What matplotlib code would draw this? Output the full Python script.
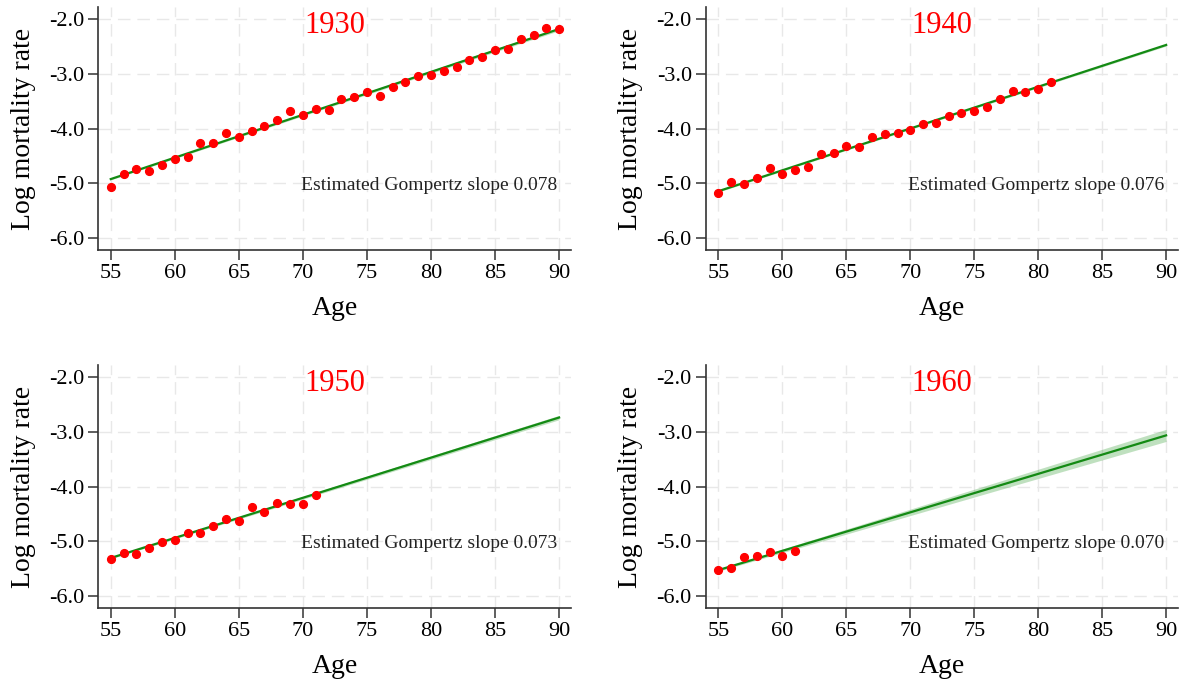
import numpy as np
import matplotlib
matplotlib.use('Agg')
import matplotlib.pyplot as plt

plt.rcParams['font.family'] = ['Liberation Serif', 'DejaVu Serif']

cohorts = ['1930', '1940', '1950', '1960']
slope_text = ['0.078', '0.076', '0.073', '0.070']

rate_1930 = [-5.07, -4.83, -4.73, -4.78, -4.67, -4.55, -4.52, -4.26, -4.26, -4.08,
             -4.15, -4.05, -3.96, -3.84, -3.69, -3.75, -3.64, -3.66, -3.47, -3.43,
             -3.34, -3.40, -3.24, -3.16, -3.05, -3.03, -2.95, -2.88, -2.75, -2.70,
             -2.57, -2.55, -2.38, -2.30, -2.17, -2.19]
rate_1940 = [-5.18, -4.98, -5.01, -4.90, -4.72, -4.83, -4.75, -4.70, -4.47, -4.45,
             -4.31, -4.34, -4.16, -4.10, -4.08, -4.03, -3.92, -3.90, -3.78, -3.71,
             -3.68, -3.60, -3.46, -3.32, -3.34, -3.28, -3.16]
rate_1950 = [-5.31, -5.21, -5.23, -5.12, -5.01, -4.97, -4.84, -4.85, -4.71, -4.60,
             -4.62, -4.38, -4.46, -4.30, -4.31, -4.32, -4.15]
rate_1960 = [-5.51, -5.49, -5.28, -5.27, -5.19, -5.27, -5.18]
rates = [rate_1930, rate_1940, rate_1950, rate_1960]

# fitted Gompertz line: value at age 55, slope, CI half width at 55 and at 90
fit_at_55 = [-4.92, -5.14, -5.30, -5.52]
fit_slope = [0.078, 0.076, 0.073, 0.070]
ci_at_55 = [0.015, 0.015, 0.015, 0.02]
ci_at_90 = [0.03, 0.02, 0.04, 0.11]

age_ticks = [55, 60, 65, 70, 75, 80, 85, 90]
y_ticks = [-2.0, -3.0, -4.0, -5.0, -6.0]

fig = plt.figure(figsize=(11.83, 6.81), dpi=100)
positions = [[0.0828, 0.6329, 0.3999, 0.3568],
             [0.5965, 0.6329, 0.3993, 0.3568],
             [0.0828, 0.1072, 0.3999, 0.3568],
             [0.5965, 0.1072, 0.3993, 0.3568]]

for i in range(4):
    ax = fig.add_axes(positions[i])
    ages = np.arange(55, 55 + len(rates[i]))
    grid_age = np.array([55, 90])
    line = fit_at_55[i] + fit_slope[i] * (grid_age - 55)
    half = np.array([ci_at_55[i], ci_at_90[i]])
    ax.fill_between(grid_age, line - half, line + half, color='#2e9b2e', alpha=0.3, lw=0, zorder=2)
    ax.plot(grid_age, line, color='#138a13', lw=1.6, zorder=3)
    ax.plot(ages, rates[i], 'o', color='red', ms=5.6, zorder=4)

    ax.set_xlim(54.0, 90.93)
    ax.set_ylim(-6.21, -1.79)
    ax.set_xticks(age_ticks)
    ax.set_yticks(y_ticks)
    ax.set_yticklabels(['%.1f' % v for v in y_ticks])
    ax.grid(True, color='#e8e8e8', ls=(0, (9, 5)), lw=1.0, zorder=0)
    ax.set_axisbelow(True)
    for s in ['top', 'right']:
        ax.spines[s].set_visible(False)
    for s in ['left', 'bottom']:
        ax.spines[s].set_color('#333333')
        ax.spines[s].set_linewidth(1.2)
    ax.tick_params(axis='both', length=7, width=1.1, color='#333333', labelsize=16, pad=3)

    ax.set_xlabel('Age', fontsize=20)
    ax.set_ylabel('Log mortality rate', fontsize=20)
    ax.xaxis.set_label_coords(0.5, -0.19)
    ax.yaxis.set_label_coords(-0.132, 0.5)

    ax.text(0.5, 0.925, cohorts[i], transform=ax.transAxes, color='red', fontsize=22,
            ha='center', va='center')
    ax.text(89.85, -5.03, 'Estimated Gompertz slope ' + slope_text[i], fontsize=14,
            ha='right', va='center', color='#222222')

fig.savefig('out.png', dpi=100)
